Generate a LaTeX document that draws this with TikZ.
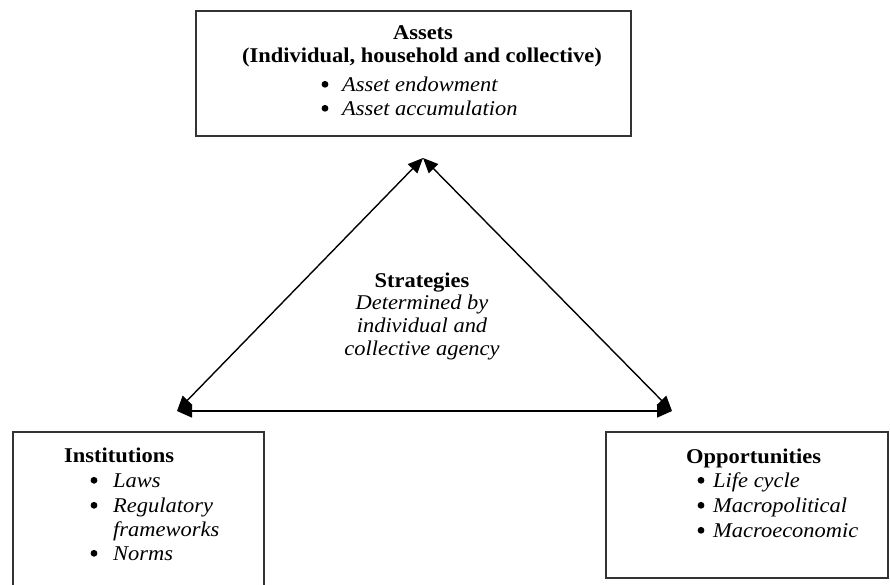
\documentclass[tikz,border=0pt]{standalone}
\usepackage{fontspec}
\setmainfont{Liberation Serif}[FakeStretch=1.07]
\usetikzlibrary{arrows.meta}
\begin{document}
\begin{tikzpicture}[x=1pt,y=-1pt,
  box/.style={draw=black!80, line width=1.6pt, inner sep=0pt},
  bul/.style={circle, fill=black, inner sep=0pt, minimum size=6.8pt},
  ttl/.style={inner sep=0pt, font=\fontsize{21}{24}\selectfont\bfseries},
  itm/.style={inner sep=0pt, font=\fontsize{21}{24}\selectfont\itshape},
  link/.style={line width=1.4pt, {Triangle[length=15pt,width=13pt]}-{Triangle[length=15pt,width=13pt]}}]
\useasboundingbox (0,0) rectangle (890,584);
\fill[white] (0,0) rectangle (890,584);
\begin{scope}
\clip (0,0) rectangle (890,584);
% boxes
\node[box, anchor=north west, minimum width=435pt, minimum height=125pt] (assets) at (195,10) {};
\node[box, anchor=north west, minimum width=251pt, minimum height=175pt] (inst) at (12,431) {};
\node[box, anchor=north west, minimum width=282pt, minimum height=146pt] (opp) at (605,431) {};
\end{scope}
% top box text
\node[ttl, anchor=base] (a0) at (423,39) {Assets};
\node[ttl, anchor=base] (a1) at (422,62) {(Individual, household and collective)};
\node[bul] (a2b) at (325,84.3) {};
\node[itm, anchor=base west] (a2) at (342,91) {Asset endowment};
\node[bul] (a3b) at (325,108.3) {};
\node[itm, anchor=base west] (a3) at (342,115) {Asset accumulation};
% institutions
\node[ttl, anchor=base west] (i0) at (64,462) {Institutions};
\node[bul] (i1b) at (94,480.3) {};
\node[itm, anchor=base west] (i1) at (113,487) {Laws};
\node[bul] (i2b) at (94,505.3) {};
\node[itm, anchor=base west] (i2) at (113,512) {Regulatory};
\node[itm, anchor=base west] (i3) at (113,536) {frameworks};
\node[bul] (i4b) at (94,553.3) {};
\node[itm, anchor=base west] (i4) at (113,560) {Norms};
% opportunities
\node[ttl, anchor=base west] (o0) at (686,463) {Opportunities};
\node[bul] (o1b) at (701,480.3) {};
\node[itm, anchor=base west] (o1) at (713,487) {Life cycle};
\node[bul] (o2b) at (701,505.3) {};
\node[itm, anchor=base west] (o2) at (713,512) {Macropolitical};
\node[bul] (o3b) at (701,530.3) {};
\node[itm, anchor=base west] (o3) at (713,537) {Macroeconomic};
% strategies
\node[ttl, anchor=base] (s0) at (422,287) {Strategies};
\node[itm, anchor=base] (s1) at (422,309) {Determined by};
\node[itm, anchor=base] (s2) at (422,332) {individual and};
\node[itm, anchor=base] (s3) at (422,355) {collective agency};
% triangle
\coordinate (apex) at (423,158);
\coordinate (lft) at (177,411);
\coordinate (rgt) at (672,411);
\draw[link] (lft) -- (apex);
\draw[link] (apex) -- (rgt);
\draw[link] (lft) -- (rgt);
\end{tikzpicture}
\end{document}
